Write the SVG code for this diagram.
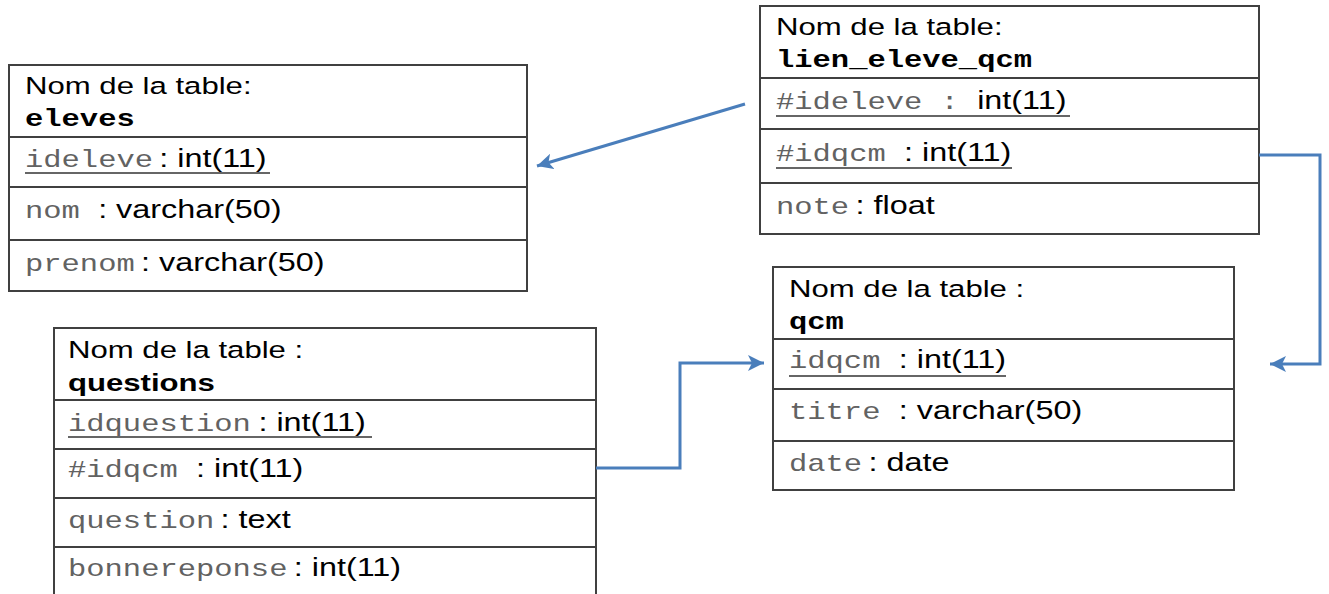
<svg xmlns="http://www.w3.org/2000/svg" width="1329" height="594" viewBox="0 0 1329 594">
<style>
.box{fill:#fff;stroke:#404040;stroke-width:2}
.div{stroke:#404040;stroke-width:2}
.ul{stroke:#333;stroke-width:1.6}
.h{font-family:"Liberation Sans",Arial,sans-serif;font-size:24.5px;fill:#000}
.hb{font-family:"Liberation Sans",Arial,sans-serif;font-size:24.5px;font-weight:bold;fill:#000}
.mb{font-family:"Liberation Mono","Courier New",monospace;font-size:24px;font-weight:bold;fill:#000}
.m{font-family:"Liberation Mono","Courier New",monospace;font-size:24px;fill:#626262}
.t{font-family:"Liberation Sans",Arial,sans-serif;font-size:25.5px;fill:#000}
.con{fill:none;stroke:#4A7EBB;stroke-width:3}
</style>
<defs>
<marker id="arr" markerUnits="userSpaceOnUse" markerWidth="18" markerHeight="16" refX="16" refY="8" orient="auto">
<path d="M0,0 L16,8 L0,16 L4,8 Z" fill="#4A7EBB"/>
</marker>
</defs>

<g id="eleves">
<rect class="box" x="9" y="65" width="518" height="226"/>
<line class="div" x1="9" y1="137" x2="527" y2="137"/>
<line class="div" x1="9" y1="187" x2="527" y2="187"/>
<line class="div" x1="9" y1="240" x2="527" y2="240"/>
<text class="h" transform="translate(25,94) scale(1.27,1)">Nom de la table:</text>
<text class="mb" transform="translate(25,126) scale(1.27,1)">eleves</text>
<text transform="translate(25,167) scale(1.27,1)"><tspan class="m">ideleve</tspan><tspan class="t" dx="5">: int(11)</tspan></text>
<line class="ul" x1="25" y1="173" x2="270" y2="173"/>
<text transform="translate(25,218) scale(1.27,1)"><tspan class="m">nom </tspan><tspan class="t">: varchar(50)</tspan></text>
<text transform="translate(25,271) scale(1.27,1)"><tspan class="m">prenom</tspan><tspan class="t" dx="5">: varchar(50)</tspan></text>
</g>

<g id="lien_eleve_qcm">
<rect class="box" x="760" y="6" width="499" height="228"/>
<line class="div" x1="760" y1="78" x2="1259" y2="78"/>
<line class="div" x1="760" y1="129" x2="1259" y2="129"/>
<line class="div" x1="760" y1="183" x2="1259" y2="183"/>
<text class="h" transform="translate(776,35) scale(1.27,1)">Nom de la table:</text>
<text class="mb" transform="translate(776,67) scale(1.27,1)">lien_eleve_qcm</text>
<text transform="translate(776,109) scale(1.27,1)"><tspan class="m">#ideleve : </tspan><tspan class="t">int(11)</tspan></text>
<line class="ul" x1="776" y1="116" x2="1070" y2="116"/>
<text transform="translate(776,161) scale(1.27,1)"><tspan class="m">#idqcm </tspan><tspan class="t">: int(11)</tspan></text>
<line class="ul" x1="776" y1="168" x2="1012" y2="168"/>
<text transform="translate(776,214) scale(1.27,1)"><tspan class="m">note</tspan><tspan class="t" dx="5">: float</tspan></text>
</g>

<g id="qcm">
<rect class="box" x="773" y="267" width="461" height="223"/>
<line class="div" x1="773" y1="339" x2="1234" y2="339"/>
<line class="div" x1="773" y1="389" x2="1234" y2="389"/>
<line class="div" x1="773" y1="441" x2="1234" y2="441"/>
<text class="h" transform="translate(789,297) scale(1.27,1)">Nom de la table :</text>
<text class="mb" transform="translate(789,329) scale(1.27,1)">qcm</text>
<text transform="translate(789,368) scale(1.27,1)"><tspan class="m">idqcm </tspan><tspan class="t">: int(11)</tspan></text>
<line class="ul" x1="789" y1="376" x2="1006" y2="376"/>
<text transform="translate(789,419) scale(1.27,1)"><tspan class="m">titre </tspan><tspan class="t">: varchar(50)</tspan></text>
<text transform="translate(789,471) scale(1.27,1)"><tspan class="m">date</tspan><tspan class="t" dx="5">: date</tspan></text>
</g>

<g id="questions">
<rect class="box" x="54" y="328" width="542" height="280"/>
<line class="div" x1="54" y1="400" x2="596" y2="400"/>
<line class="div" x1="54" y1="449" x2="596" y2="449"/>
<line class="div" x1="54" y1="498" x2="596" y2="498"/>
<line class="div" x1="54" y1="547" x2="596" y2="547"/>
<text class="h" transform="translate(68,358) scale(1.27,1)">Nom de la table :</text>
<text class="hb" transform="translate(68,391) scale(1.27,1)">questions</text>
<text transform="translate(68,431) scale(1.27,1)"><tspan class="m">idquestion</tspan><tspan class="t" dx="6">: int(11)</tspan></text>
<line class="ul" x1="68" y1="437" x2="372" y2="437"/>
<text transform="translate(68,477) scale(1.27,1)"><tspan class="m">#idqcm </tspan><tspan class="t">: int(11)</tspan></text>
<text transform="translate(68,528) scale(1.27,1)"><tspan class="m">question</tspan><tspan class="t" dx="5">: text</tspan></text>
<text transform="translate(68,576) scale(1.27,1)"><tspan class="m">bonnereponse</tspan><tspan class="t" dx="5">: int(11)</tspan></text>
</g>

<g id="connectors">
<path class="con" d="M745,104 L537,166" marker-end="url(#arr)"/>
<path class="con" d="M1259,155 L1320,155 L1320,364 L1270,364" marker-end="url(#arr)"/>
<path class="con" d="M596,468 L680,468 L680,363 L764,363" marker-end="url(#arr)"/>
</g>
</svg>
